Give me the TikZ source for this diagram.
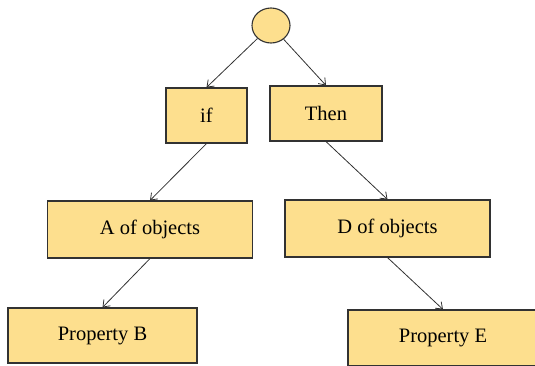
\documentclass[tikz,border=0pt]{standalone}
\usepackage{fontspec}
\setmainfont{Liberation Serif}
\usetikzlibrary{shapes.geometric,arrows.meta}
\definecolor{boxfill}{RGB}{253,223,142}
\definecolor{boxline}{RGB}{50,50,50}
\begin{document}
\begin{tikzpicture}[x=1pt, y=-1pt,
    box/.style={draw=boxline, fill=boxfill, line width=1.1pt, inner sep=0pt, font=\fontsize{20.5}{24}\selectfont},
    link/.style={draw=boxline, line width=0.8pt, -{Straight Barb[length=6pt,width=9pt]}}]
    \useasboundingbox (0,0) rectangle (535,365);
    \clip (0,0) rectangle (535,365);

    \node [box, ellipse, minimum width=38pt, minimum height=35pt] (top) at (271,25.5) {};

    \node [box, minimum width=81pt, minimum height=55pt] (if) at (206.5,115.5) {if};
    \node [box, minimum width=112pt, minimum height=55pt] (then) at (326,113.5) {Then};

    \node [box, minimum width=205pt, minimum height=57pt] (aobj) at (150,229.5) {A of objects};
    \node [box, minimum width=205pt, minimum height=57pt] (dobj) at (387.5,228.5) {D of objects};

    \node [box, minimum width=189pt, minimum height=55pt] (propb) at (102.5,335.5) {Property B};
    \node [box, minimum width=190pt, minimum height=56pt] (prope) at (443,338) {Property E};

    \draw [link] (top) -- (if.north);
    \draw [link] (top) -- (then.north);
    \draw [link] (if.south) -- (aobj.north);
    \draw [link] (then.south) -- (dobj.north);
    \draw [link] (aobj.south) -- (propb.north);
    \draw [link] (dobj.south) -- (prope.north);
\end{tikzpicture}
\end{document}
